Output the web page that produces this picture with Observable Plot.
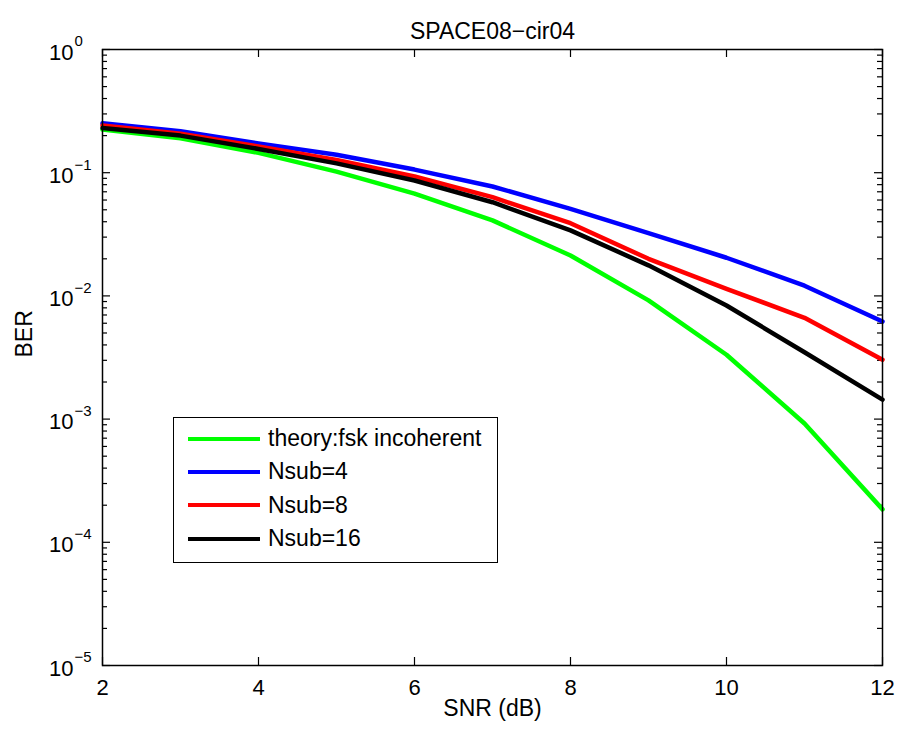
<!DOCTYPE html>
<html>
<head>
<meta charset="utf-8">
<script src="https://cdn.jsdelivr.net/npm/d3@7"></script>
<script src="https://cdn.jsdelivr.net/npm/@observablehq/plot@0.6"></script>
<style>
  html, body { margin: 0; padding: 0; background: #fff; }
  #wrap { position: relative; width: 900px; height: 731px; font-family: "Liberation Sans", Arial, sans-serif; }
  #legend { position: absolute; left: 173px; top: 417px; width: 323px; height: 140px; border: 1.5px solid #000; background: #fff; padding-top: 4px; box-sizing: content-box; }
  .row { height: 33.3px; display: flex; align-items: center; font-size: 23px; color: #000; }
  .sw { width: 72px; height: 4px; margin-left: 14px; margin-right: 8px; }
</style>
</head>
<body>
<div id="wrap"></div>
<script>
const title = "SPACE08\u2212cir04";
const xLabel = "SNR (dB)";
const yLabel = "BER";
const snr = [2, 3, 4, 5, 6, 7, 8, 9, 10, 11, 12];
const theory = [0.224, 0.190, 0.145, 0.102, 0.0676, 0.0410, 0.0213, 0.00920, 0.00333, 0.00092, 0.000185];
const nsub4  = [0.252, 0.217, 0.173, 0.140, 0.106, 0.0773, 0.0509, 0.0323, 0.0204, 0.0121, 0.00619];
const nsub8  = [0.242, 0.207, 0.163, 0.127, 0.0931, 0.0633, 0.0389, 0.0200, 0.01142, 0.00664, 0.00303];
const nsub16 = [0.231, 0.200, 0.156, 0.119, 0.0865, 0.0576, 0.0340, 0.0177, 0.00836, 0.00349, 0.00144];
const seriesNames = ["theory:fsk incoherent", "Nsub=4", "Nsub=8", "Nsub=16"];
const seriesColors = ["#00ff00", "#0000ff", "#ff0000", "#000000"];
const xTicks = [2, 4, 6, 8, 10, 12];
const yExponents = [0, -1, -2, -3, -4, -5];
const minorMultipliers = [2, 3, 4, 5, 6, 7, 8, 9];

const seriesValues = [theory, nsub4, nsub8, nsub16];
const data = [];
seriesValues.forEach((vals, s) => vals.forEach((v, i) => data.push({series: seriesNames[s], x: snr[i], y: v})));

const yMajor = yExponents.map(e => Math.pow(10, e));
const yMinor = [];
yExponents.slice(1).forEach(e => minorMultipliers.forEach(m => yMinor.push(m * Math.pow(10, e))));

const W = 900, H = 731, mL = 102, mR = 18, mT = 49, mB = 66;
const pw = W - mL - mR, ph = H - mT - mB;
const font = "Liberation Sans, Arial, sans-serif";

const chart = Plot.plot({
  width: W, height: H,
  marginLeft: mL, marginRight: mR, marginTop: mT, marginBottom: mB,
  style: {fontFamily: font, background: "#fff", color: "#000"},
  x: {domain: [2, 12], label: null},
  y: {type: "log", domain: [1e-5, 1], label: null},
  color: {domain: seriesNames, range: seriesColors},
  marks: [
    // x tick labels
    Plot.axisX({ticks: xTicks, tickSize: 0, tickPadding: 14, fontSize: 22, tickFormat: d => String(d), label: null}),
    Plot.axisY({ticks: [], label: null}),
    // inward ticks
    Plot.ruleX(xTicks, {x: d => d, insetTop: ph - 8, stroke: "#000", strokeWidth: 1.2}),
    Plot.ruleX(xTicks, {x: d => d, insetBottom: ph - 8, stroke: "#000", strokeWidth: 1.2}),
    Plot.ruleY(yMajor, {y: d => d, insetRight: pw - 8, stroke: "#000", strokeWidth: 1.2}),
    Plot.ruleY(yMajor, {y: d => d, insetLeft: pw - 8, stroke: "#000", strokeWidth: 1.2}),
    Plot.ruleY(yMinor, {y: d => d, insetRight: pw - 5, stroke: "#000", strokeWidth: 1.2}),
    Plot.ruleY(yMinor, {y: d => d, insetLeft: pw - 5, stroke: "#000", strokeWidth: 1.2}),
    // y tick labels 10^k
    Plot.text(yMajor, {y: d => d, frameAnchor: "left", text: () => "10", textAnchor: "end", dx: -29, dy: 3, fontSize: 22, fill: "#000"}),
    Plot.text(yExponents, {y: e => Math.pow(10, e), frameAnchor: "left", text: e => String(e).replace("-", "\u2212"), textAnchor: "start", dx: -28, dy: -8, fontSize: 15, fill: "#000"}),
    // data lines
    Plot.line(data, {x: "x", y: "y", z: "series", stroke: "series", strokeWidth: 4.5, strokeLinejoin: "round"}),
    Plot.frame({stroke: "#000", strokeWidth: 1.5}),
    // title and labels
    Plot.text([title], {frameAnchor: "top", text: d => d, dy: -27, fontSize: 23, fill: "#000"}),
    Plot.text([xLabel], {frameAnchor: "bottom", text: d => d, dy: 50, fontSize: 23, fill: "#000"}),
    Plot.text([yLabel], {frameAnchor: "left", text: d => d, dx: -78, rotate: -90, fontSize: 23, fill: "#000"})
  ]
});

const wrap = document.getElementById("wrap");
wrap.appendChild(chart);

const legend = document.createElement("div");
legend.id = "legend";
seriesNames.forEach((name, i) => {
  const row = document.createElement("div");
  row.className = "row";
  const sw = document.createElement("span");
  sw.className = "sw";
  sw.style.background = seriesColors[i];
  const lab = document.createElement("span");
  lab.textContent = name;
  row.appendChild(sw);
  row.appendChild(lab);
  legend.appendChild(row);
});
wrap.appendChild(legend);
</script>
</body>
</html>
